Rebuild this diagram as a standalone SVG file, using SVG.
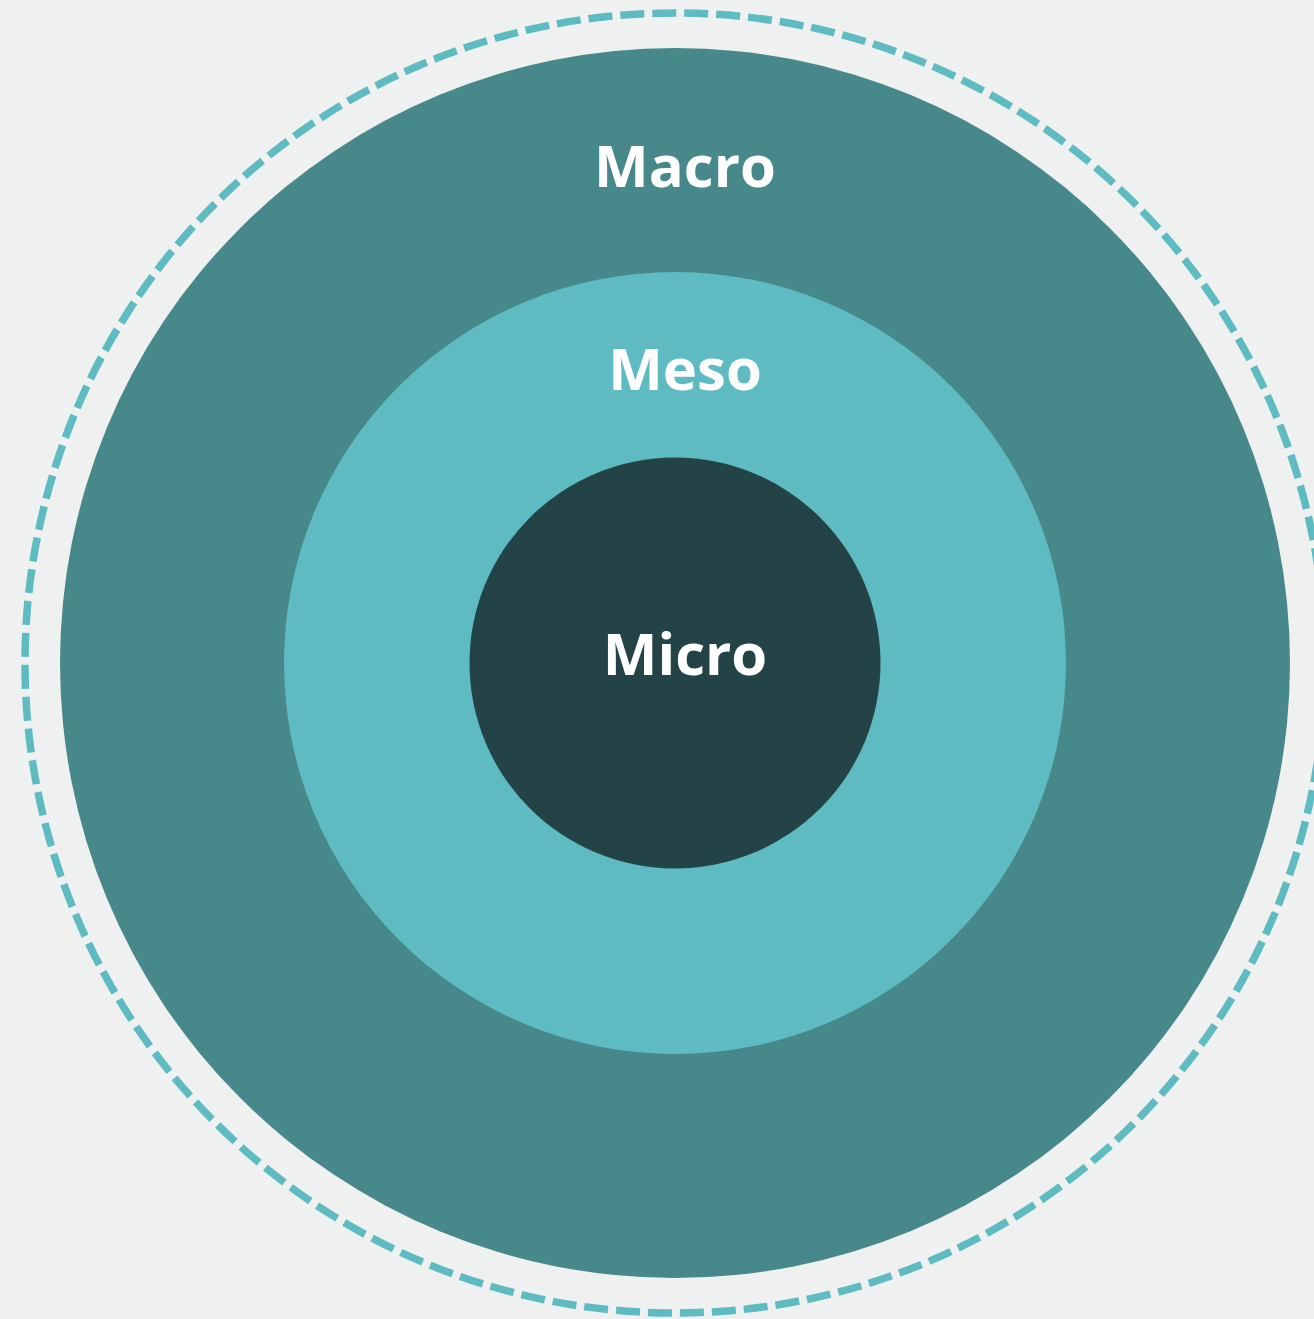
<svg xmlns="http://www.w3.org/2000/svg" width="1314" height="1319" viewBox="0 0 1314 1319">
<style>
.lbl{font-family:"Open Sans","Noto Sans","Liberation Sans",sans-serif;font-weight:700;font-size:58px;fill:#ffffff;text-anchor:middle}
</style>
<rect x="0" y="0" width="1314" height="1319" fill="#eff1f0"/>
<g id="outer-boundary">
<circle cx="675" cy="663" r="650" fill="none" stroke="#5ebbc2" stroke-width="7.5" stroke-dasharray="24 8"/>
</g>
<g id="macro">
<circle cx="675" cy="663" r="615" fill="#47888a"/>
<text class="lbl" x="685" y="187">Macro</text>
</g>
<g id="meso">
<circle cx="675" cy="663" r="391" fill="#5ebbc2"/>
<text class="lbl" x="685" y="390">Meso</text>
</g>
<g id="micro">
<circle cx="675" cy="663" r="205.5" fill="#234346"/>
<text class="lbl" x="685" y="675">Micro</text>
</g>
<g id="connectors"/>
</svg>
